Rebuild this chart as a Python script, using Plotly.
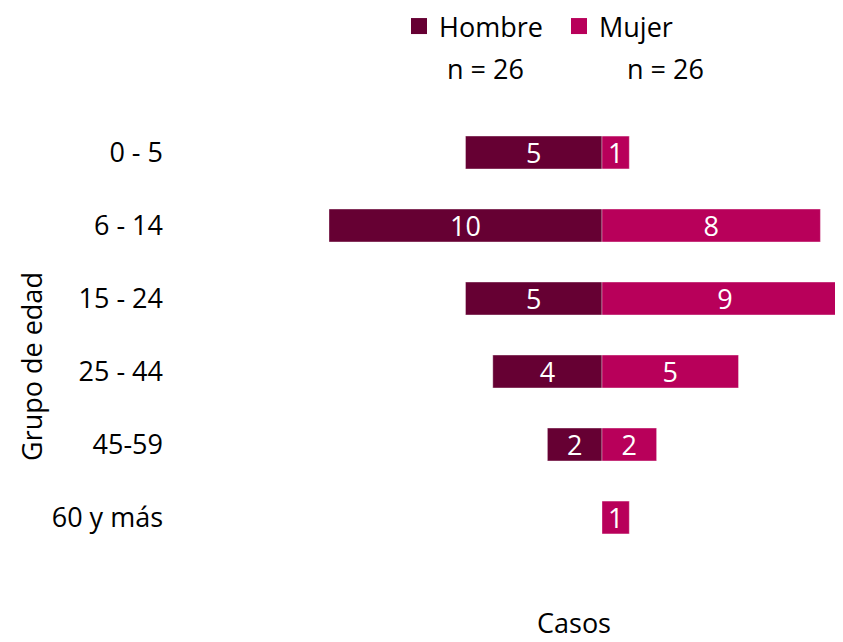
import plotly.graph_objects as go

# Datos
grupos = ["0 - 5", "6 - 14", "15 - 24", "25 - 44", "45-59", "60 y más"]
hombre = [5, 10, 5, 4, 2, 0]
mujer = [1, 8, 9, 5, 2, 1]
n_hombre = 26
n_mujer = 26

COL_H = "#660033"
COL_M = "#b8005a"
FONT = "Open Sans"
FS = 27

# geometria en pixeles (la pagina agrega 8 px de margen al body)
OFF = 8
W, H = 843, 642
ML, MR, MT, MB = 170 - OFF, OFF, 116 - OFF, 96
PW = W - ML - MR
PH = H - MT - MB
CENTER = 602 - OFF          # pixel del cero
PX_UNIT = 27.3              # pixeles por caso


def px_to_paper(x, y):
    # coordenadas de pantalla -> paper
    return (x - OFF - ML) / PW, 1 - (y - OFF - MT) / PH


fig = go.Figure()

fig.add_trace(go.Bar(
    y=grupos,
    x=[-v for v in hombre],
    orientation="h",
    name="Hombre",
    showlegend=False,
    marker=dict(color=COL_H, line=dict(color="rgba(255,255,255,0.35)", width=1)),
    text=[str(v) if v else "" for v in hombre],
    textposition="inside",
    insidetextanchor="middle",
    textangle=0,
    textfont=dict(color="white", size=FS, family=FONT),
    hoverinfo="skip",
))
fig.add_trace(go.Bar(
    y=grupos,
    x=mujer,
    orientation="h",
    name="Mujer",
    showlegend=False,
    marker=dict(color=COL_M, line=dict(color="rgba(255,255,255,0.35)", width=1)),
    text=[str(v) if v else "" for v in mujer],
    textposition="inside",
    insidetextanchor="middle",
    textangle=0,
    textfont=dict(color="white", size=FS, family=FONT),
    hoverinfo="skip",
))

# entradas de leyenda con cuadrados mas grandes
for name, col in [("Hombre", COL_H), ("Mujer", COL_M)]:
    fig.add_trace(go.Scatter(
        x=[None], y=[None], mode="markers", name=name,
        marker=dict(symbol="square", size=16, color=col),
        hoverinfo="skip",
    ))

leg_x, leg_y = px_to_paper(399, 2)

fig.update_layout(
    width=W,
    height=H,
    barmode="relative",
    bargap=0.55,
    uniformtext=dict(minsize=FS, mode="show"),
    font=dict(family=FONT, color="black", size=FS),
    paper_bgcolor="white",
    plot_bgcolor="white",
    margin=dict(l=ML, r=MR, t=MT, b=MB, autoexpand=False),
    showlegend=True,
    legend=dict(
        orientation="h",
        x=leg_x, y=leg_y,
        xanchor="left", yanchor="top",
        bgcolor="rgba(0,0,0,0)",
        itemwidth=30,
        entrywidth=115,
        font=dict(size=FS, family=FONT),
        itemclick=False,
        itemdoubleclick=False,
    ),
    xaxis=dict(
        range=[-(CENTER - ML) / PX_UNIT, (W - MR - CENTER) / PX_UNIT],
        showticklabels=False,
        showgrid=False,
        zeroline=False,
        showline=False,
        ticks="",
        automargin=False,
        fixedrange=True,
    ),
    yaxis=dict(
        autorange="reversed",
        showgrid=False,
        zeroline=False,
        showline=False,
        ticks="",
        ticklabelstandoff=6,
        tickfont=dict(size=FS, family=FONT),
        automargin=False,
        fixedrange=True,
    ),
)

# n bajo cada entrada de leyenda
for xpx, n in [(485, n_hombre), (665, n_mujer)]:
    x, y = px_to_paper(xpx, 68)
    fig.add_annotation(x=x, y=y, xref="paper", yref="paper", text=f"n = {n}",
                       xanchor="center", yanchor="middle",
                       showarrow=False, font=dict(size=FS, color="black", family=FONT))

# titulos de los ejes
x, y = px_to_paper(574, 622)
fig.add_annotation(x=x, y=y, xref="paper", yref="paper", text="Casos",
                   xanchor="center", yanchor="middle",
                   showarrow=False, font=dict(size=FS, family=FONT))
x, y = px_to_paper(31, 367)
fig.add_annotation(x=x, y=y, xref="paper", yref="paper", text="Grupo de edad",
                   xanchor="center", yanchor="middle",
                   textangle=-90, showarrow=False, font=dict(size=FS, family=FONT))

fig.write_html("out.html")
